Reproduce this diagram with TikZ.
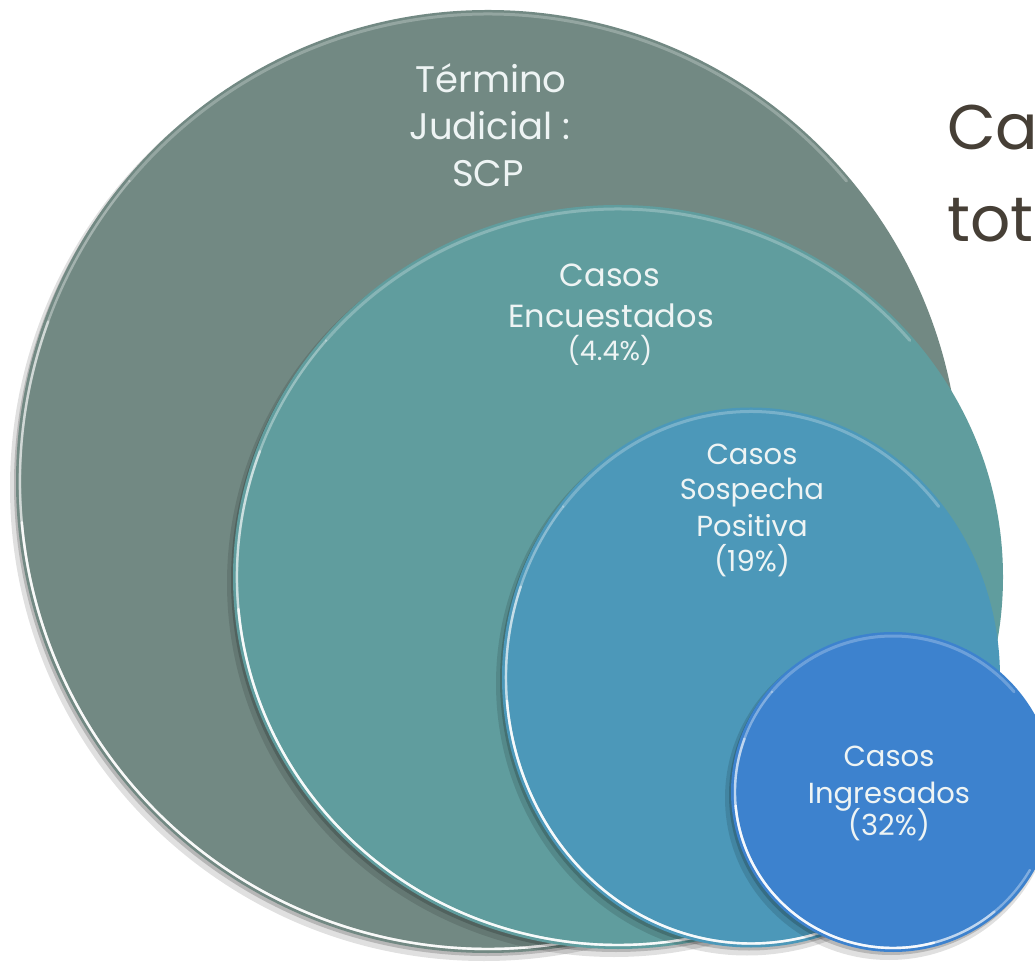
\documentclass[tikz,border=0pt]{standalone}
\usepackage{fontspec}
\setmainfont{Poppins}
\definecolor{cgray}{HTML}{728983}
\definecolor{cteal}{HTML}{609D9E}
\definecolor{cblue}{HTML}{4C98B9}
\definecolor{croyal}{HTML}{3D82CE}
\definecolor{ctext}{HTML}{EEF4F4}
\definecolor{cdark}{HTML}{463F36}
\tikzset{
  lbl/.style={text=ctext, anchor=base, inner sep=0pt},
  big/.style={lbl, font=\fontsize{37}{44}\selectfont},
  mid/.style={lbl, font=\fontsize{32}{40}\selectfont},
  sml/.style={lbl, font=\fontsize{27}{32}\selectfont},
  inn/.style={lbl, font=\fontsize{29}{36}\selectfont},
  ttl/.style={text=cdark, anchor=base west, inner sep=0pt, font=\fontsize{63}{76}\selectfont},
}
\newcommand\mybubble[6]{%
  \coordinate (#1) at (#2,#3);
  \pgfmathsetmacro\rxi{#4-4}\pgfmathsetmacro\ryi{#5-4}%
  \pgfmathsetmacro\rxo{#4+2}\pgfmathsetmacro\ryo{#5+2}%
  \fill[black,opacity=0.12] (#1) ++(-4,-6) ellipse[x radius=\rxo, y radius=\ryo];
  \fill[black,opacity=0.18] (#1) ++(-2,-3) ellipse[x radius=#4, y radius=#5];
  \fill[#6] (#1) ellipse[x radius=#4, y radius=#5];
  \draw[#6!55!white, line width=3pt, opacity=0.55, line cap=round] (#1) ++(40:\rxi pt and \ryi pt) arc[start angle=40, end angle=140, x radius=\rxi, y radius=\ryi];
  \foreach \a/\b/\o in {140/330/0.35, 160/310/0.5, 185/285/0.85}{
    \draw[white, line width=2.4pt, opacity=\o, line cap=round] (#1) ++(\a:\rxi pt and \ryi pt) arc[start angle=\a, end angle=\b, x radius=\rxi, y radius=\ryi];
  }
}
\begin{document}
\begin{tikzpicture}[x=1pt,y=1pt]
\useasboundingbox (0,0) rectangle (1035,961);
\clip (0,0) rectangle (1035,961);
\fill[white] (0,0) rectangle (1035,961);
\mybubble{c1}{488}{479.5}{472}{471.5}{cgray}
\mybubble{c2}{618}{384}{385}{372}{cteal}
\mybubble{c3}{751}{283.5}{249}{270}{cblue}
\mybubble{c4}{893}{169}{162}{160}{croyal}
% labels
\node[big] (t1) at (491,868) {Término};
\node[big] (t2) at (490,821) {Judicial :};
\node[big] (t3) at (488,774) {SCP};
\node[mid] (e1) at (610,674) {Casos};
\node[mid] (e2) at (611,633) {Encuestados};
\node[sml] (e3) at (610,600) {(4.4\%)};
\node[inn] (s1) at (752,496) {Casos};
\node[inn] (s2) at (752,461) {Sospecha};
\node[inn] (s3) at (752,424) {Positiva};
\node[inn] (s4) at (752,389) {(19\%)};
\node[inn] (i1) at (889,194) {Casos};
\node[inn] (i2) at (889,158) {Ingresados};
\node[inn] (i3) at (889,126) {(32\%)};
\node[ttl] (h1) at (947,811) {Ca};
\node[ttl] (h2) at (947,719) {tota};
\end{tikzpicture}
\end{document}
